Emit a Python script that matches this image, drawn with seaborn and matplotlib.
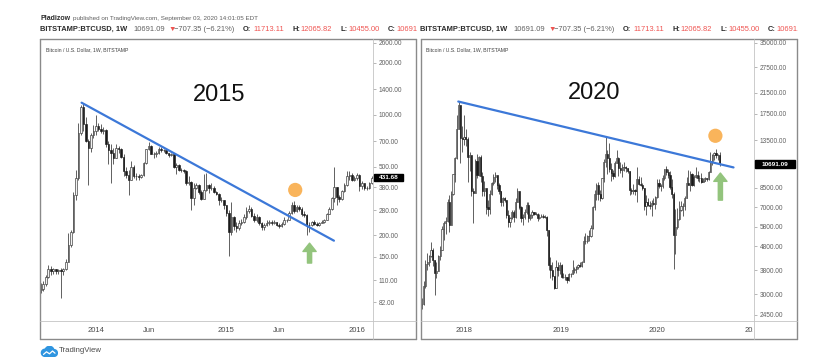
import numpy as np
import pandas as pd
import matplotlib
matplotlib.use("Agg")
from matplotlib import pyplot as plt
import matplotlib.dates as mdates
from matplotlib.lines import Line2D
from matplotlib.patches import Rectangle, Circle
from matplotlib.transforms import Bbox, TransformedBbox
import seaborn as sns

W, H = 822, 364

########## data (weekly candles)
# left: BTCUSD weekly, Aug 2013 - Feb 2016
left_start = "2013-08-05"
left_open0 = 96
left_close = [
    98, 104, 115, 128,
    124, 127, 124, 125, 124,
    127, 140, 175, 210,
    340, 430, 780, 1100,
    880, 700, 640, 760, 800,
    860, 830, 800, 810,
    680, 620, 600, 560,
    640, 630, 570, 470, 445,
    420, 500, 440, 440,
    435, 445, 525, 630,
    660, 595, 595, 600, 635,
    625, 620, 600, 585,
    590, 500, 510, 480,
    478, 470, 400, 405, 330,
    375, 390, 355, 325,
    365, 390, 375, 378,
    355, 347, 320, 320, 300,
    270, 210, 255, 225,
    220, 235, 240, 255,
    275, 285, 260, 245, 255,
    235, 222, 230, 235,
    240, 237, 240, 230,
    225, 233, 245, 245, 270,
    300, 275, 290, 283,
    265, 262, 230, 230, 238,
    232, 230, 235, 240,
    245, 265, 285, 330,
    380, 335, 325, 360, 390,
    440, 445, 420, 430,
    445, 385, 400, 375,
    375, 400, 431.68,
]
left_high = [
    106, 108, 118, 135,
    132, 130, 128, 128, 130,
    130, 145, 205, 215,
    355, 480, 900, 1130,
    1165, 970, 720, 780, 870,
    1000, 900, 880, 850,
    820, 700, 680, 640,
    680, 660, 640, 590, 500,
    480, 540, 510, 460,
    450, 450, 530, 635,
    690, 670, 610, 615, 650,
    650, 630, 625, 600,
    600, 600, 525, 515,
    490, 485, 475, 440, 410,
    400, 400, 395, 365,
    450, 460, 395, 400,
    385, 360, 350, 335, 320,
    300, 280, 310, 260,
    240, 245, 250, 265,
    290, 300, 290, 270, 265,
    260, 240, 235, 245,
    245, 245, 245, 240,
    235, 238, 255, 250, 275,
    310, 315, 300, 300,
    290, 275, 265, 240, 242,
    245, 240, 240, 245,
    250, 270, 290, 335,
    500, 380, 340, 365, 400,
    470, 470, 460, 440,
    460, 455, 410, 395,
    385, 405, 440,
]
left_low = [
    92, 95, 102, 113,
    118, 120, 120, 120, 87,
    118, 126, 140, 170,
    205, 320, 420, 760,
    800, 690, 390, 610, 730,
    760, 800, 780, 770,
    650, 520, 400, 520,
    560, 600, 560, 440, 430,
    340, 420, 430, 420,
    420, 430, 440, 520,
    620, 590, 560, 565, 590,
    610, 605, 590, 570,
    575, 490, 450, 470,
    465, 460, 390, 390, 280,
    300, 370, 345, 320,
    325, 360, 350, 365,
    350, 340, 300, 310, 285,
    260, 152, 200, 215,
    210, 215, 230, 235,
    250, 270, 255, 240, 240,
    230, 215, 215, 225,
    230, 230, 232, 225,
    220, 222, 230, 238, 245,
    265, 270, 272, 275,
    260, 255, 200, 210, 225,
    228, 225, 225, 235,
    235, 245, 265, 280,
    310, 300, 310, 318, 355,
    385, 420, 410, 415,
    420, 360, 370, 365,
    365, 370, 395,
]

# right: BTCUSD weekly, Jul 2017 - Sep 2020
right_start = "2017-07-24"
right_open0 = 2700
right_close = [
    2730, 3250,
    4050, 4100, 4350, 4600,
    4200, 3700, 3780, 4370,
    4600, 5700, 6000, 6130, 7400,
    5900, 8000, 9700, 11300,
    15000, 19000, 13800, 13700,
    14000, 13600, 11500, 11700, 8200,
    8100, 11000, 9600, 11500,
    9500, 8200, 8500, 7000,
    6900, 8000, 8900, 9400, 9650,
    8700, 8200, 7400, 7700,
    7500, 6500, 6100, 6300,
    6700, 6350, 7400, 8200, 7000,
    6300, 6400, 6700, 7200,
    6300, 6500, 6700, 6600,
    6550, 6300, 6400, 6450, 6400,
    6400, 5600, 4000, 3800,
    3600, 3200, 3900, 3800, 4000,
    3550, 3550, 3550, 3450,
    3650, 3650, 3800, 3850,
    3900, 4000, 3970, 4100,
    5050, 5070, 5300, 5300, 5750,
    7000, 8000, 8700, 8000,
    7700, 9300, 10900, 11800,
    11400, 10200, 9800, 9500, 10800,
    11300, 10300, 10100, 10400,
    10400, 10300, 10000, 8300, 8200,
    8300, 8200, 9200, 8800,
    8750, 8500, 7100, 7400,
    7200, 7100, 7300, 7250, 7750,
    8900, 8650, 8600, 9300,
    10150, 9900, 9650, 8550,
    8000, 5350, 5800, 6250, 6850,
    7100, 7100, 7700, 8900,
    8700, 9700, 8700, 9450,
    9650, 9350, 9300, 9000, 9050,
    9300, 9200, 9900, 11050,
    11700, 11900, 11650, 11713.11, 10691.09,
]
right_high = [
    2900, 3400,
    4200, 4480, 4400, 4980,
    4700, 4200, 4100, 4400,
    4800, 5850, 6150, 6350, 7600,
    7900, 8200, 9750, 11500,
    17200, 19700, 19000, 15500,
    17200, 15000, 14000, 12000, 11700,
    8500, 11200, 11800, 11600,
    11700, 9900, 9100, 8500,
    7500, 8300, 9000, 9700, 9900,
    9650, 8850, 8250, 7750,
    7750, 7500, 6800, 6400,
    6800, 6800, 7650, 8500, 8200,
    7100, 6600, 6900, 7400,
    7400, 6600, 6800, 6700,
    6700, 6650, 6600, 6550, 6550,
    6500, 6450, 5600, 4300,
    4100, 3600, 4200, 4100, 4100,
    4050, 3700, 3650, 3550,
    3700, 3700, 4200, 3900,
    3950, 4050, 4100, 4150,
    5300, 5450, 5350, 5600, 5900,
    7100, 8300, 8900, 9000,
    8300, 9350, 11200, 13880,
    12300, 13200, 10800, 10100, 11000,
    12300, 11500, 10900, 10700,
    10950, 10450, 10300, 10000, 8500,
    8800, 8400, 10350, 9500,
    9400, 8900, 8500, 7900,
    7700, 7450, 7500, 7650, 7800,
    9200, 9200, 8800, 9600,
    10200, 10500, 10150, 9950,
    9200, 8150, 6900, 6950, 7450,
    7450, 7300, 7800, 9450,
    10050, 9950, 9850, 9600,
    10400, 9950, 9600, 9800, 9350,
    9450, 9300, 10000, 12000,
    11800, 12050, 12450, 11800, 12065.82,
]
right_low = [
    2600, 2700,
    3200, 3800, 3950, 4300,
    3950, 2980, 3500, 3780,
    4200, 4600, 5100, 5400, 6100,
    5500, 5900, 7900, 9000,
    11200, 15000, 10800, 12000,
    12900, 12800, 9000, 10000, 7800,
    6000, 8100, 9300, 9500,
    9000, 7800, 7800, 6600,
    6450, 6600, 7900, 8700, 9000,
    8400, 8000, 7100, 7100,
    7400, 6300, 5800, 5800,
    6250, 6100, 6300, 7400, 6900,
    6100, 5900, 6250, 6600,
    6100, 6200, 6300, 6500,
    6500, 6150, 6250, 6350, 6300,
    6300, 5300, 3800, 3500,
    3450, 3150, 3200, 3600, 3650,
    3500, 3500, 3450, 3350,
    3400, 3550, 3650, 3700,
    3700, 3850, 3900, 3900,
    4100, 4900, 4950, 5050, 5250,
    5700, 6800, 7500, 7500,
    7450, 7600, 9000, 10400,
    9700, 9900, 9100, 9200, 9400,
    10800, 9500, 9800, 9400,
    10000, 9900, 9800, 7900, 7950,
    8000, 7900, 7350, 8700,
    8650, 8300, 6800, 6500,
    7100, 6900, 6450, 7150, 6880,
    7700, 8450, 8250, 8500,
    9150, 9600, 9300, 8400,
    7650, 3850, 4450, 5700, 6200,
    6750, 6450, 6800, 7650,
    8700, 8200, 8650, 8650,
    9300, 9100, 9000, 8850, 8950,
    9050, 9050, 9150, 9900,
    10600, 11150, 11400, 11150, 10455,
]

# drawings on the charts
left_trend_dates = ["2013-11-27", "2015-11-01"]
left_trend_prices = [1172, 186]
right_trend_dates = ["2017-12-10", "2020-10-23"]
right_trend_prices = [19700, 10350]
left_dot = ("2015-07-16", 366)
right_dot = ("2020-08-15", 14100)
left_arrow = ("2015-08-25", 138, 180)
right_arrow = ("2020-09-03", 7520, 9800)

left_yticks = [82, 110, 150, 200, 280, 380, 500, 700, 1000, 1400, 2000, 2600]
right_yticks = [2450, 3000, 3800, 4800, 5800, 7000, 8500, 13500, 17500, 21500, 27500, 35000]
left_xticks = ["2014-01-06", "2014-06-02", "2015-01-05", "2015-06-01", "2016-01-04"]
left_xlabels = ["2014", "Jun", "2015", "Jun", "2016"]
right_xticks = ["2018-01-01", "2019-01-07", "2020-01-06", "2021-01-04"]
right_xlabels = ["2018", "2019", "2020", "2021"]

header1 = "published on TradingView.com, September 03, 2020 14:01:05 EDT"
panel_title = "Bitcoin / U.S. Dollar, 1W, BITSTAMP"

DARK = "#2b2b2b"
GRAY = "#5f5f5f"
RED = "#ef5350"
BLUE = "#3c78d8"
ORANGE = "#f9b45b"
GREEN = "#93c47d"

sns.set_style("white")
plt.rcParams["font.family"] = ["Liberation Sans", "DejaVu Sans"]

fig = plt.figure(figsize=(W / 100, H / 100), dpi=100)


def fx(x):
    return x / W


def fy(y):
    return 1 - y / H


def fline(x0, y0, x1, y1, color, lw):
    fig.add_artist(Line2D([fx(x0), fx(x1)], [fy(y0), fy(y1)], color=color,
                          linewidth=lw, transform=fig.transFigure))


def candles(ax, start, o0, c, h, l, width):
    dates = pd.date_range(start, periods=len(c), freq="W-MON")
    x = mdates.date2num(dates)
    c = np.array(c, dtype=float)
    o = np.concatenate([[o0], c[:-1]])
    h = np.maximum(np.array(h, dtype=float), np.maximum(o, c))
    l = np.minimum(np.array(l, dtype=float), np.minimum(o, c))
    up = c >= o
    ax.vlines(x, l, h, color="#555555", linewidth=0.65, zorder=2)
    ax.bar(x[up], (c - o)[up], bottom=o[up], width=width, color="#f2f2f2",
           edgecolor="#333333", linewidth=0.45, zorder=3)
    ax.bar(x[~up], (o - c)[~up], bottom=c[~up], width=width, color="#1a1a1a",
           edgecolor="#1a1a1a", linewidth=0.45, zorder=3)


def clip_to(t, x_px):
    t.set_clip_box(TransformedBbox(Bbox.from_extents(0, 0, fx(x_px), 1), fig.transFigure))
    t.set_clip_on(True)


def placed_runs(x0, y_px, runs, size, clip_px):
    for dx, s, color, weight in runs:
        t = fig.text(fx(x0 + dx), fy(y_px), s, color=color, fontweight=weight,
                     fontsize=size, ha="left", va="center")
        clip_to(t, clip_px)


def price_box(ax, val, label, x_px, w_px):
    y = ax.transData.transform((ax.get_xlim()[0], val))[1]
    fig.add_artist(Rectangle((fx(x_px), (y - 3.7) / H), w_px / W, 7.4 / H,
                             transform=fig.transFigure, color="black", zorder=10))
    fig.text(fx(x_px + w_px / 2), y / H, label, color="white", fontsize=4.6,
             fontweight="bold", ha="center", va="center", zorder=11)


def panel(L, R, S, xlim, ylim, start, o0, c, h, l, trend_d, trend_p, dot, arrow,
          yticks, xticks, xlabels, year, year_pos, last, box_w):
    ax = fig.add_axes([fx(L), fy(321), (S - L) / W, (321 - 39) / H])
    candles(ax, start, o0, c, h, l, 4.5)

    sns.lineplot(x=mdates.date2num(pd.to_datetime(trend_d)), y=trend_p, ax=ax,
                 color=BLUE, linewidth=1.6, zorder=5)
    sns.scatterplot(x=[mdates.date2num(pd.Timestamp(dot[0]))], y=[dot[1]], ax=ax,
                    s=105, color=ORANGE, edgecolor="none", zorder=6)
    ax_x = mdates.date2num(pd.Timestamp(arrow[0]))
    ax.annotate("", xy=(ax_x, arrow[2]), xytext=(ax_x, arrow[1]),
                arrowprops=dict(arrowstyle="simple,head_length=0.6,head_width=0.95,tail_width=0.3",
                                color=GREEN, shrinkA=0, shrinkB=0, mutation_scale=10),
                zorder=6)

    ax.set_yscale("log")
    ax.set_xlim(mdates.date2num(pd.to_datetime(xlim)))
    ax.set_ylim(ylim)
    ax.set_yticks(yticks, ["%.2f" % v for v in yticks])
    ax.yaxis.set_minor_locator(matplotlib.ticker.NullLocator())
    ax.set_xticks(mdates.date2num(pd.to_datetime(xticks)), xlabels)
    ax.xaxis.set_minor_locator(matplotlib.ticker.NullLocator())
    ax.set_xlabel("")
    ax.set_ylabel("")
    ax.yaxis.tick_right()
    ax.tick_params(axis="y", length=2.5, width=0.5, color="#9a9a9a", pad=1.5,
                   labelsize=4.7, labelcolor="#606060")
    ax.tick_params(axis="x", length=2, width=0.5, color="#9a9a9a", pad=2.5,
                   labelsize=5.5, labelcolor="#4a4a4a")
    for sp in ax.spines.values():
        sp.set_visible(False)
    ax.grid(False)

    ax.text(year_pos[0], year_pos[1], year, transform=ax.transAxes, fontsize=17,
            color="#111111", ha="center", va="center")
    fig.text(fx(L + 5.5), fy(50), panel_title, fontsize=3.7, color="#404040",
             ha="left", va="center")

    # frame of the screenshot
    fline(L, 39, R, 39, "#8a8a8a", 1.0)
    fline(L, 339, R, 339, "#8a8a8a", 1.0)
    fline(L, 39, L, 339, "#8a8a8a", 1.0)
    fline(R, 39, R, 339, "#8a8a8a", 1.0)
    fline(S, 39, S, 339, "#c4c4c4", 0.6)
    fline(L, 321, R, 321, "#c4c4c4", 0.6)

    price_box(ax, last, "%.2f" % last, S + 1, box_w)
    return ax


axl = panel(40, 416, 373, ["2013-08-03", "2016-02-18"], (63.7, 2742), left_start,
            left_open0, left_close, left_high, left_low, left_trend_dates,
            left_trend_prices, left_dot, left_arrow, left_yticks, left_xticks,
            left_xlabels, "2015", (0.5375, 0.801), left_close[-1], 29)
axr = panel(421, 797, 754, ["2017-07-21", "2021-01-09"], (2310, 36280), right_start,
            right_open0, right_close, right_high, right_low, right_trend_dates,
            right_trend_prices, right_dot, right_arrow, right_yticks, right_xticks,
            right_xlabels, "2020", (0.52, 0.809), right_close[-1], 40)

# the 2021 label is cut by the price scale
clip_to(axr.get_xticklabels()[-1], 752.5)

# header lines
placed_runs(40, 18.5, [(0, "Pladizow", DARK, "bold")], 5.0, 822)
placed_runs(40, 18.5, [(32.5, header1, GRAY, "normal")], 4.5, 822)
quote = [(0, "BITSTAMP:BTCUSD, 1W", DARK, "bold"), (93, "10691.09", GRAY, "normal"),
         (128, "\u25bc", RED, "normal"), (134, "\u2212707.35 (\u22126.21%)", GRAY, "normal"),
         (203, "O:", DARK, "bold"), (213, "11713.11", RED, "normal"),
         (252, "H:", DARK, "bold"), (260, "12065.82", RED, "normal"),
         (300, "L:", DARK, "bold"), (308, "10455.00", RED, "normal"),
         (348, "C:", DARK, "bold")]
placed_runs(40, 29.5, quote + [(356, "10691", RED, "normal")], 5.4, 418)
placed_runs(420, 29.5, quote + [(356, "10691.09", RED, "normal")], 5.4, 798)

# TradingView logo in the footer
lax = fig.add_axes([fx(40), fy(357), 18 / W, 11 / H])
lax.set_xlim(0, 18)
lax.set_ylim(0, 11)
lax.axis("off")
for cx, cy, rr in [(5, 4.2, 3.6), (9.5, 6.3, 4.4), (14, 4.0, 3.4)]:
    lax.add_patch(Circle((cx, cy), rr, color="#2f95e0"))
lax.add_patch(Rectangle((5, 0.6), 9, 3.5, color="#2f95e0"))
lax.plot([3.5, 6.5, 9.5, 12.5, 15], [2.6, 5.2, 3.2, 6.0, 3.8], color="white", linewidth=0.9)
fig.text(fx(58.5), fy(351), "TradingView", fontsize=5.6, color="#4a4a4a", ha="left", va="center")

fig.savefig("out.png", dpi=100)
